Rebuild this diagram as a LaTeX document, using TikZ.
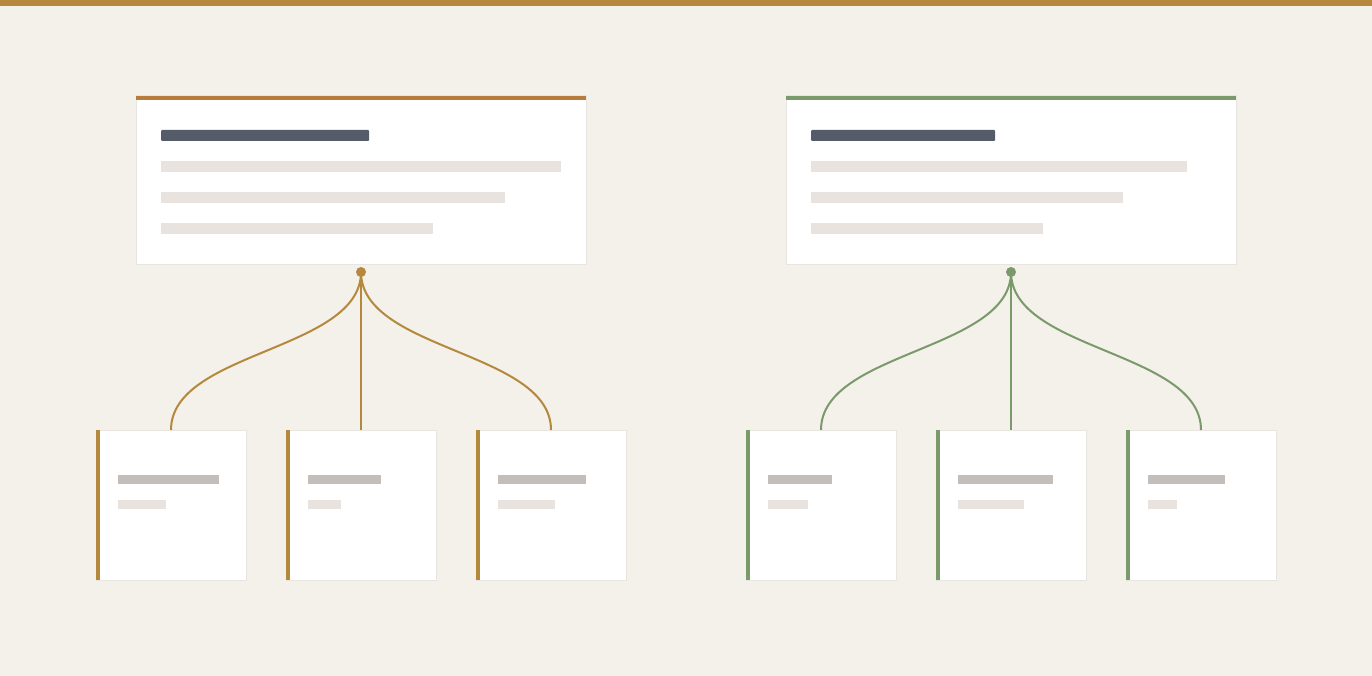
\documentclass[tikz,border=0pt]{standalone}
\usetikzlibrary{positioning}
\definecolor{bgc}{HTML}{F4F0EA}
\definecolor{gold}{HTML}{B5893D}
\definecolor{rust}{HTML}{B87B3E}
\definecolor{sage}{HTML}{7A9A6B}
\definecolor{cardline}{HTML}{E8E4DF}
\definecolor{darkbar}{HTML}{535C68}
\definecolor{lightbar}{HTML}{E8E3DE}
\definecolor{midbar}{HTML}{C4BEBB}
\tikzset{
  card/.style={draw=cardline, line width=1pt, fill=white, inner sep=0pt, outer sep=0pt, anchor=north west},
  headbar/.style={fill=darkbar, rounded corners=1pt},
  pbar/.style={fill=lightbar},
  mbar/.style={fill=midbar},
  link/.style={line width=2pt},
}
\begin{document}
\begin{tikzpicture}[x=1pt,y=-1pt]
\useasboundingbox (0,0) rectangle (1372,676);
\fill[bgc] (0,0) rectangle (1372,676);
\fill[gold] (0,0) rectangle (1372,6);

% ---------- left group ----------
\node[card, minimum width=450pt, minimum height=168pt] (L) at (136,96) {};
\fill[rust] (136,96) rectangle (586,100);
\fill[headbar] (161,130) rectangle (369,141);
\fill[pbar] (161,161) rectangle (561,172);
\fill[pbar] (161,192) rectangle (505,203);
\fill[pbar] (161,223) rectangle (433,234);
\node[circle, fill=gold, inner sep=0pt, minimum size=10pt] (Ld) at (361,272) {};

\node[card, minimum width=150pt, minimum height=150pt] (L1) at (96,430) {};
\node[card, minimum width=150pt, minimum height=150pt] (L2) at (286,430) {};
\node[card, minimum width=150pt, minimum height=150pt] (L3) at (476,430) {};
\fill[gold] (96,430) rectangle (100,580);
\fill[gold] (286,430) rectangle (290,580);
\fill[gold] (476,430) rectangle (480,580);
\fill[mbar] (118,475) rectangle (219,484);
\fill[pbar] (118,500) rectangle (166,509);
\fill[mbar] (308,475) rectangle (381,484);
\fill[pbar] (308,500) rectangle (341,509);
\fill[mbar] (498,475) rectangle (586,484);
\fill[pbar] (498,500) rectangle (555,509);

\draw[link, draw=gold] (Ld.center) .. controls (361,351) and (171,351) .. (L1.north);
\draw[link, draw=gold] (Ld.center) -- (Ld.center |- L2.north);
\draw[link, draw=gold] (Ld.center) .. controls (361,351) and (551,351) .. (L3.north);

% ---------- right group ----------
\node[card, minimum width=450pt, minimum height=168pt] (R) at (786,96) {};
\fill[sage] (786,96) rectangle (1236,100);
\fill[headbar] (811,130) rectangle (995,141);
\fill[pbar] (811,161) rectangle (1187,172);
\fill[pbar] (811,192) rectangle (1123,203);
\fill[pbar] (811,223) rectangle (1043,234);
\node[circle, fill=sage, inner sep=0pt, minimum size=10pt] (Rd) at (1011,272) {};

\node[card, minimum width=150pt, minimum height=150pt] (R1) at (746,430) {};
\node[card, minimum width=150pt, minimum height=150pt] (R2) at (936,430) {};
\node[card, minimum width=150pt, minimum height=150pt] (R3) at (1126,430) {};
\fill[sage] (746,430) rectangle (750,580);
\fill[sage] (936,430) rectangle (940,580);
\fill[sage] (1126,430) rectangle (1130,580);
\fill[mbar] (768,475) rectangle (832,484);
\fill[pbar] (768,500) rectangle (808,509);
\fill[mbar] (958,475) rectangle (1053,484);
\fill[pbar] (958,500) rectangle (1024,509);
\fill[mbar] (1148,475) rectangle (1225,484);
\fill[pbar] (1148,500) rectangle (1177,509);

\draw[link, draw=sage] (Rd.center) .. controls (1011,351) and (821,351) .. (R1.north);
\draw[link, draw=sage] (Rd.center) -- (Rd.center |- R2.north);
\draw[link, draw=sage] (Rd.center) .. controls (1011,351) and (1201,351) .. (R3.north);
\end{tikzpicture}
\end{document}
